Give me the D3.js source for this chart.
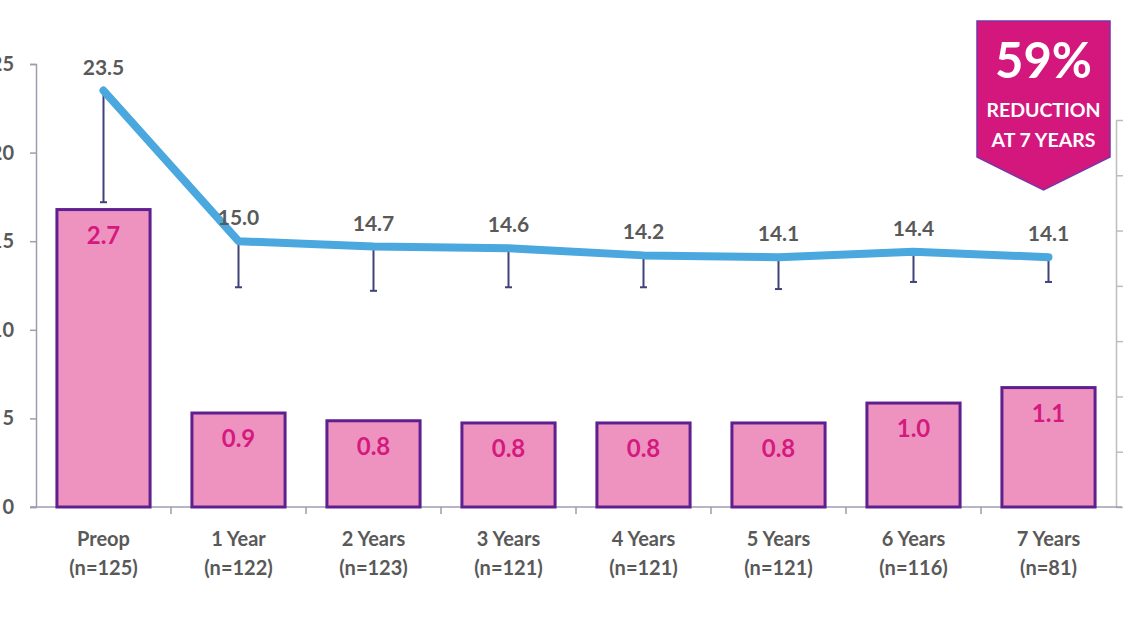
<!DOCTYPE html>
<html>
<head>
<meta charset="utf-8">
<script src="https://cdn.jsdelivr.net/npm/d3@7/dist/d3.min.js"></script>
<style>
  html, body { margin: 0; padding: 0; background: #ffffff; }
  svg { display: block; font-family: Lato, "Open Sans", sans-serif; }
</style>
</head>
<body>
<div id="chart"></div>
<script>
// Chart data
const categories = ["Preop", "1 Year", "2 Years", "3 Years", "4 Years", "5 Years", "6 Years", "7 Years"]
const sampleSizes = ["(n=125)", "(n=122)", "(n=123)", "(n=121)", "(n=121)", "(n=121)", "(n=116)", "(n=81)"]

// line series (left axis) with lower error bar end
const lineValues = [23.5, 15.0, 14.7, 14.6, 14.2, 14.1, 14.4, 14.1]
const lineLower  = [17.2, 12.4, 12.2, 12.4, 12.4, 12.3, 12.7, 12.7]

// bar series (right axis)
const barValues = [2.69, 0.85, 0.78, 0.76, 0.76, 0.76, 0.94, 1.08]
const barLabels = ["2.7", "0.9", "0.8", "0.8", "0.8", "0.8", "1.0", "1.1"]

const leftTicks = [0, 5, 10, 15, 20, 25]
const rightTicks = [0, 0.5, 1, 1.5, 2, 2.5, 3, 3.5]

const badgeLines = ["59%", "REDUCTION", "AT 7 YEARS"]

const COLORS = {
  bar: "#ee93bf",
  barStroke: "#5e2090",
  barLabel: "#d4197f",
  line: "#4aa8df",
  err: "#3f4379",
  text: "#595959",
  axisLeft: "#9c9db0",
  axisRight: "#bdbdbd",
  badge: "#d3177d",
  badgeStroke: "#7a35a8",
}

const W = 1138, H = 640
const plot = { left: 36, right: 1116, top: 64, bottom: 507 }

const svg = d3.select("#chart").append("svg")
  .attr("width", W)
  .attr("height", H)

const x = d3.scaleBand()
  .domain(categories)
  .range([plot.left, plot.right])
  .paddingInner(0.31)
  .paddingOuter(0.155)

const yL = d3.scaleLinear().domain([0, 25]).range([plot.bottom, plot.top])
const yR = d3.scaleLinear().domain([0, 3.5]).range([plot.bottom, 120])

const cx = c => x(c) + x.bandwidth() / 2

// Left axis (labels run off the left edge, as in the source image)
const leftAxis = svg.append("g")
  .attr("transform", `translate(${plot.left},0)`)
  .call(d3.axisLeft(yL).tickValues(leftTicks).tickSize(6).tickPadding(16).tickFormat(d3.format("d")))
leftAxis.select(".domain").attr("stroke", COLORS.axisLeft).attr("stroke-width", 1.5)
leftAxis.selectAll(".tick line").attr("stroke", COLORS.axisLeft).attr("stroke-width", 1.5)
leftAxis.selectAll(".tick text")
  .attr("fill", COLORS.text)
  .attr("font-size", 20)
  .attr("font-weight", 700)
  .attr("font-family", "Lato, sans-serif")

// Right axis (labels sit off the canvas in the reference)
const rightAxis = svg.append("g")
  .attr("transform", `translate(${plot.right},0)`)
  .call(d3.axisRight(yR).tickValues(rightTicks).tickSize(7).tickSizeOuter(0).tickFormat(""))
rightAxis.select(".domain").attr("stroke", COLORS.axisRight).attr("stroke-width", 1.5)
rightAxis.selectAll(".tick line").attr("stroke", COLORS.axisRight).attr("stroke-width", 1.5)

// X axis baseline + band separators
svg.append("line")
  .attr("x1", plot.left - 6).attr("x2", plot.right + 6)
  .attr("y1", plot.bottom).attr("y2", plot.bottom)
  .attr("stroke", COLORS.axisLeft)
  .attr("stroke-width", 1.5)

svg.append("g").selectAll("line")
  .data(categories.slice(1))
  .join("line")
  .attr("x1", d => x(d) - x.step() * x.paddingInner() / 2)
  .attr("x2", d => x(d) - x.step() * x.paddingInner() / 2)
  .attr("y1", plot.bottom)
  .attr("y2", plot.bottom + 7)
  .attr("stroke", COLORS.axisLeft)
  .attr("stroke-width", 1.5)

// Category labels
const xl = svg.append("g").selectAll("text")
  .data(categories)
  .join("text")
  .attr("x", d => cx(d))
  .attr("text-anchor", "middle")
  .attr("fill", COLORS.text)
  .attr("font-size", 20)
  .attr("font-weight", 700)
xl.append("tspan").attr("x", d => cx(d)).attr("y", 546).text(d => d)
xl.append("tspan").attr("x", d => cx(d)).attr("y", 575).text((d, i) => sampleSizes[i])

// Bars
svg.append("g").selectAll("rect")
  .data(categories)
  .join("rect")
  .attr("x", d => x(d))
  .attr("width", x.bandwidth())
  .attr("y", (d, i) => yR(barValues[i]))
  .attr("height", (d, i) => yR(0) - yR(barValues[i]))
  .attr("fill", COLORS.bar)
  .attr("stroke", COLORS.barStroke)
  .attr("stroke-width", 3)

svg.append("g").selectAll("text")
  .data(categories)
  .join("text")
  .attr("x", d => cx(d))
  .attr("y", (d, i) => yR(barValues[i]) + 34)
  .attr("text-anchor", "middle")
  .attr("fill", COLORS.barLabel)
  .attr("font-size", 24)
  .attr("font-weight", 700)
  .text((d, i) => barLabels[i])

// Error bars (downward only)
const err = svg.append("g")
categories.forEach((c, i) => {
  err.append("line")
    .attr("x1", cx(c)).attr("x2", cx(c))
    .attr("y1", yL(lineValues[i])).attr("y2", yL(lineLower[i]))
    .attr("stroke", COLORS.err).attr("stroke-width", 2)
  err.append("line")
    .attr("x1", cx(c) - 3.5).attr("x2", cx(c) + 3.5)
    .attr("y1", yL(lineLower[i])).attr("y2", yL(lineLower[i]))
    .attr("stroke", COLORS.err).attr("stroke-width", 2)
})

// Line
const line = d3.line()
  .x((d, i) => cx(categories[i]))
  .y(d => yL(d))

svg.append("path")
  .datum(lineValues)
  .attr("d", line)
  .attr("fill", "none")
  .attr("stroke", COLORS.line)
  .attr("stroke-width", 8)
  .attr("stroke-linejoin", "round")
  .attr("stroke-linecap", "round")

svg.append("g").selectAll("text")
  .data(lineValues)
  .join("text")
  .attr("x", (d, i) => cx(categories[i]))
  .attr("y", d => yL(d) - 16)
  .attr("text-anchor", "middle")
  .attr("fill", COLORS.text)
  .attr("font-size", 21)
  .attr("font-weight", 700)
  .text(d => d3.format(".1f")(d))

// Badge
const bx0 = 977, bx1 = 1110, by0 = 21, by1 = 157, tipY = 190
const bmid = (bx0 + bx1) / 2
svg.append("path")
  .attr("d", `M${bx0},${by0}L${bx1},${by0}L${bx1},${by1}L${bmid},${tipY}L${bx0},${by1}Z`)
  .attr("fill", COLORS.badge)
  .attr("stroke", COLORS.badgeStroke)
  .attr("stroke-width", 1.5)

svg.append("text")
  .attr("x", bmid).attr("y", 78)
  .attr("text-anchor", "middle")
  .attr("fill", "#ffffff")
  .attr("font-size", 49)
  .attr("font-weight", 700)
  .text(badgeLines[0])

svg.append("text")
  .attr("x", bmid).attr("y", 117)
  .attr("text-anchor", "middle")
  .attr("fill", "#ffffff")
  .attr("font-size", 19.5)
  .attr("font-weight", 700)
  .text(badgeLines[1])

svg.append("text")
  .attr("x", bmid).attr("y", 147)
  .attr("text-anchor", "middle")
  .attr("fill", "#ffffff")
  .attr("font-size", 19.5)
  .attr("font-weight", 700)
  .text(badgeLines[2])
</script>
</body>
</html>
